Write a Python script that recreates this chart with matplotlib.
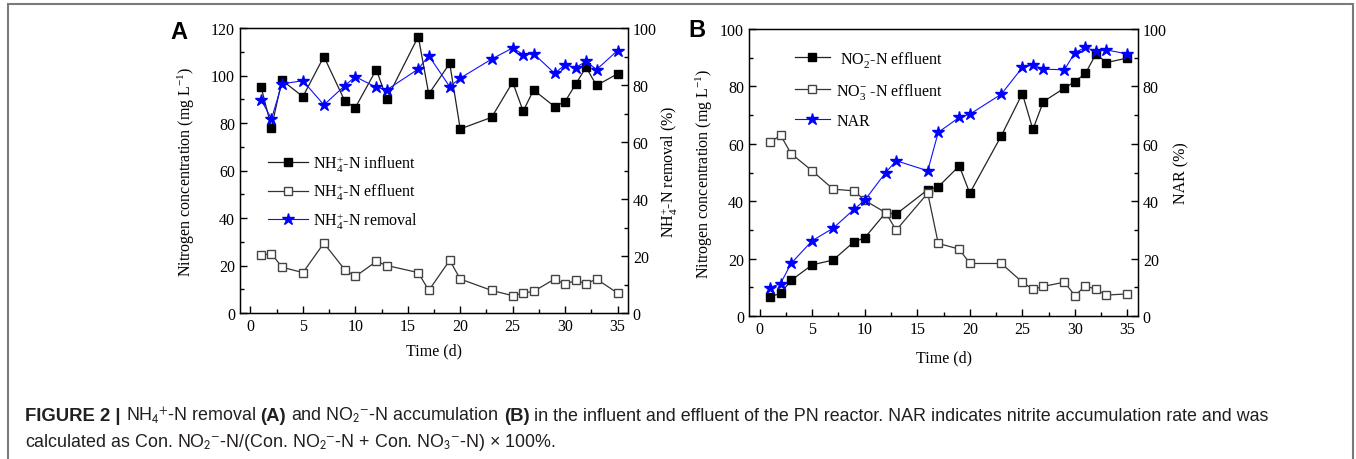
import matplotlib
matplotlib.use('Agg')
import matplotlib.pyplot as plt
from matplotlib.ticker import MultipleLocator
from matplotlib.patches import Rectangle
from matplotlib.transforms import IdentityTransform

# ---------------- data ----------------
days = [1, 2, 3, 5, 7, 9, 10, 12, 13, 16, 17, 19, 20, 23, 25, 26, 27, 29, 30, 31, 32, 33, 35]

nh4_influent = [95.3, 78.1, 98.0, 91.1, 108.0, 89.2, 86.5, 102.5, 90.1, 116.4, 92.2, 105.1, 77.5,
                82.4, 97.2, 85.0, 93.9, 86.9, 89.0, 96.3, 103.5, 95.8, 100.7]
nh4_effluent = [24.3, 25.0, 19.3, 17.0, 29.4, 18.2, 15.4, 21.7, 20.0, 17.0, 9.5, 22.2, 14.3,
                9.5, 7.3, 8.4, 9.1, 14.3, 12.1, 13.7, 12.3, 14.3, 8.4]
nh4_removal = [74.9, 68.1, 80.4, 81.5, 73.0, 79.8, 82.9, 79.2, 78.3, 85.6, 90.3, 79.4, 82.4,
               89.1, 93.0, 90.7, 91.0, 84.1, 87.1, 86.1, 88.3, 85.4, 92.1]

no2_effluent = [6.7, 7.9, 12.4, 17.8, 19.5, 25.9, 27.2, 36.0, 35.5, 44.0, 45.0, 52.3, 42.8,
                62.8, 77.5, 65.0, 74.7, 79.4, 81.7, 84.5, 91.3, 88.3, 89.9]
no3_effluent = [60.5, 63.0, 56.6, 50.6, 44.2, 43.6, 40.3, 36.0, 29.9, 42.8, 25.3, 23.3, 18.3,
                18.3, 11.8, 9.3, 10.3, 11.8, 7.1, 10.5, 9.3, 7.3, 7.7]
nar = [9.9, 11.3, 18.3, 26.2, 30.6, 37.2, 40.3, 50.0, 54.1, 50.6, 64.0, 69.2, 70.3,
       77.3, 86.6, 87.5, 86.0, 85.8, 91.8, 93.6, 92.2, 92.7, 91.3]

labels_A = [r'NH$_4^{+}$-N influent', r'NH$_4^{+}$-N effluent', r'NH$_4^{+}$-N removal']
labels_B = [r' NO$_2^{-}$-N effluent', r'NO$_3^{-}$ -N effluent', 'NAR']

# ---------------- style ----------------
plt.rcParams['font.family'] = ['Liberation Serif', 'DejaVu Serif']
plt.rcParams['mathtext.fontset'] = 'custom'
plt.rcParams['mathtext.rm'] = 'Liberation Serif'
plt.rcParams['mathtext.it'] = 'Liberation Serif:italic'
plt.rcParams['mathtext.bf'] = 'Liberation Serif:bold'

FS = 11.5
W, H = 1356, 460
fig = plt.figure(figsize=(W / 100, H / 100), dpi=100)
fig.patch.set_facecolor('white')

# outer frame
fig.patches.append(Rectangle((8, -20), 1345, 475, transform=IdentityTransform(),
                             fill=False, edgecolor='#7a7a7a', lw=1.5))


def style_axes(ax, ymax, ymajor):
    ax.set_xlim(-1, 36)
    ax.set_ylim(0, ymax)
    ax.xaxis.set_major_locator(MultipleLocator(5))
    ax.xaxis.set_minor_locator(MultipleLocator(2.5))
    ax.yaxis.set_major_locator(MultipleLocator(ymajor))
    ax.yaxis.set_minor_locator(MultipleLocator(ymajor / 2))
    ax.tick_params(which='both', direction='in', top=False, labelsize=FS, width=1.0)
    ax.tick_params(which='major', length=5)
    ax.tick_params(which='minor', length=3)
    for s in ax.spines.values():
        s.set_linewidth(1.0)


def style_twin(ax2):
    ax2.set_ylim(0, 100)
    ax2.yaxis.set_major_locator(MultipleLocator(20))
    ax2.yaxis.set_minor_locator(MultipleLocator(10))
    ax2.tick_params(which='both', direction='in', labelsize=FS, width=1.0)
    ax2.tick_params(which='major', length=5)
    ax2.tick_params(which='minor', length=3)


sq = dict(marker='s', ms=5.6, lw=0.9)
star = dict(marker='*', ms=8.8, lw=0.8, color='#1010ff', mfc='#0000ff', mec='#0000ff')

# ---------------- Panel A ----------------
axA = fig.add_axes([240 / W, 1 - 314 / H, 388 / W, 285 / H])
style_axes(axA, 120, 20)
l1, = axA.plot(days, nh4_influent, color='#222222', mfc='black', mec='black', label=labels_A[0], **sq)
l2, = axA.plot(days, nh4_effluent, color='#333333', mfc='white', mec='#444444', label=labels_A[1], **sq)
axA2 = axA.twinx()
style_twin(axA2)
axA2.set_xlim(-1, 36)
l3, = axA2.plot(days, nh4_removal, label=labels_A[2], **star)
axA.set_xlabel('Time (d)', fontsize=FS, labelpad=6)
axA.set_ylabel('Nitrogen concentration (mg L$^{-1}$)', fontsize=FS, labelpad=10)
axA2.set_ylabel(r'NH$_4^{+}$-N removal (%)', fontsize=FS, labelpad=2)
axA2.legend(handles=[l1, l2, l3], loc='center left', bbox_to_anchor=(0.072, 0.425),
            frameon=False, fontsize=FS, borderpad=0, borderaxespad=0,
            handlelength=2.5, handletextpad=0.3, labelspacing=0.5, numpoints=1)

# ---------------- Panel B ----------------
axB = fig.add_axes([749 / W, 1 - 317 / H, 389 / W, 287 / H])
style_axes(axB, 100, 20)
m1, = axB.plot(days, no2_effluent, color='#222222', mfc='black', mec='black', label=labels_B[0], **sq)
m2, = axB.plot(days, no3_effluent, color='#333333', mfc='white', mec='#444444', label=labels_B[1], **sq)
axB2 = axB.twinx()
style_twin(axB2)
axB2.set_xlim(-1, 36)
m3, = axB2.plot(days, nar, label=labels_B[2], **star)
axB.set_xlabel('Time (d)', fontsize=FS, labelpad=9)
axB.set_ylabel('Nitrogen concentration (mg L$^{-1}$)', fontsize=FS, labelpad=4)
axB2.set_ylabel('NAR (%)', fontsize=FS, labelpad=5)
axB2.legend(handles=[m1, m2, m3], loc='center left', bbox_to_anchor=(0.118, 0.792),
            frameon=False, fontsize=FS, borderpad=0, borderaxespad=0,
            handlelength=2.2, handletextpad=0.4, labelspacing=0.75, numpoints=1)

# ---------------- panel letters ----------------
fig.text(179, H - 33, 'A', transform=IdentityTransform(), fontsize=17, weight='bold',
         family=['Liberation Sans', 'DejaVu Sans'], ha='center', va='center')
fig.text(697, H - 31, 'B', transform=IdentityTransform(), fontsize=17, weight='bold',
         family=['Liberation Sans', 'DejaVu Sans'], ha='center', va='center')

# ---------------- caption ----------------
reg_family = ['Liberation Sans', 'DejaVu Sans']
bold_family = ['Liberation Sans', 'DejaVu Sans']
cap_color = '#231f20'
reg_fs = 12.9
bold_fs = 13.3
line1 = [('FIGURE 2 |', 'bold', False),
         (r'NH$_4$$^{+}$-N removal', 'normal', True),
         ('(A)', 'bold', True),
         (r'and NO$_2$$^{-}$-N accumulation', 'normal', True),
         ('(B)', 'bold', True),
         ('in the influent and effluent of the PN reactor. NAR indicates nitrite accumulation rate and was',
          'normal', True)]
line2 = [(r'calculated as Con. NO$_2$$^{-}$-N/(Con. NO$_2$$^{-}$-N + Con. NO$_3$$^{-}$-N) × 100%.',
          'normal', False)]

renderer = fig.canvas.get_renderer()


def make_text(x, y, s, weight, color='black'):
    bold = weight == 'bold'
    return fig.text(x, y, s, transform=IdentityTransform(),
                    fontsize=bold_fs if bold else reg_fs,
                    family=bold_family if bold else reg_family,
                    weight=weight, color=color, va='baseline', ha='left',
                    math_fontfamily='stixsans')


def text_width(s, weight):
    t = make_text(0, 0, s, weight)
    w = t.get_window_extent(renderer).width
    t.remove()
    return w


space_w = text_width('x x', 'normal') - text_width('xx', 'normal')


def place_line(pieces, x0, y):
    x = x0
    for s, weight, sp in pieces:
        if sp:
            x += space_w
        t = make_text(x, y, s, weight, cap_color)
        x = t.get_window_extent(renderer).x1


place_line(line1, 25, H - 421)
place_line(line2, 25, H - 447)

fig.savefig('out.png', dpi=100, facecolor='white')
